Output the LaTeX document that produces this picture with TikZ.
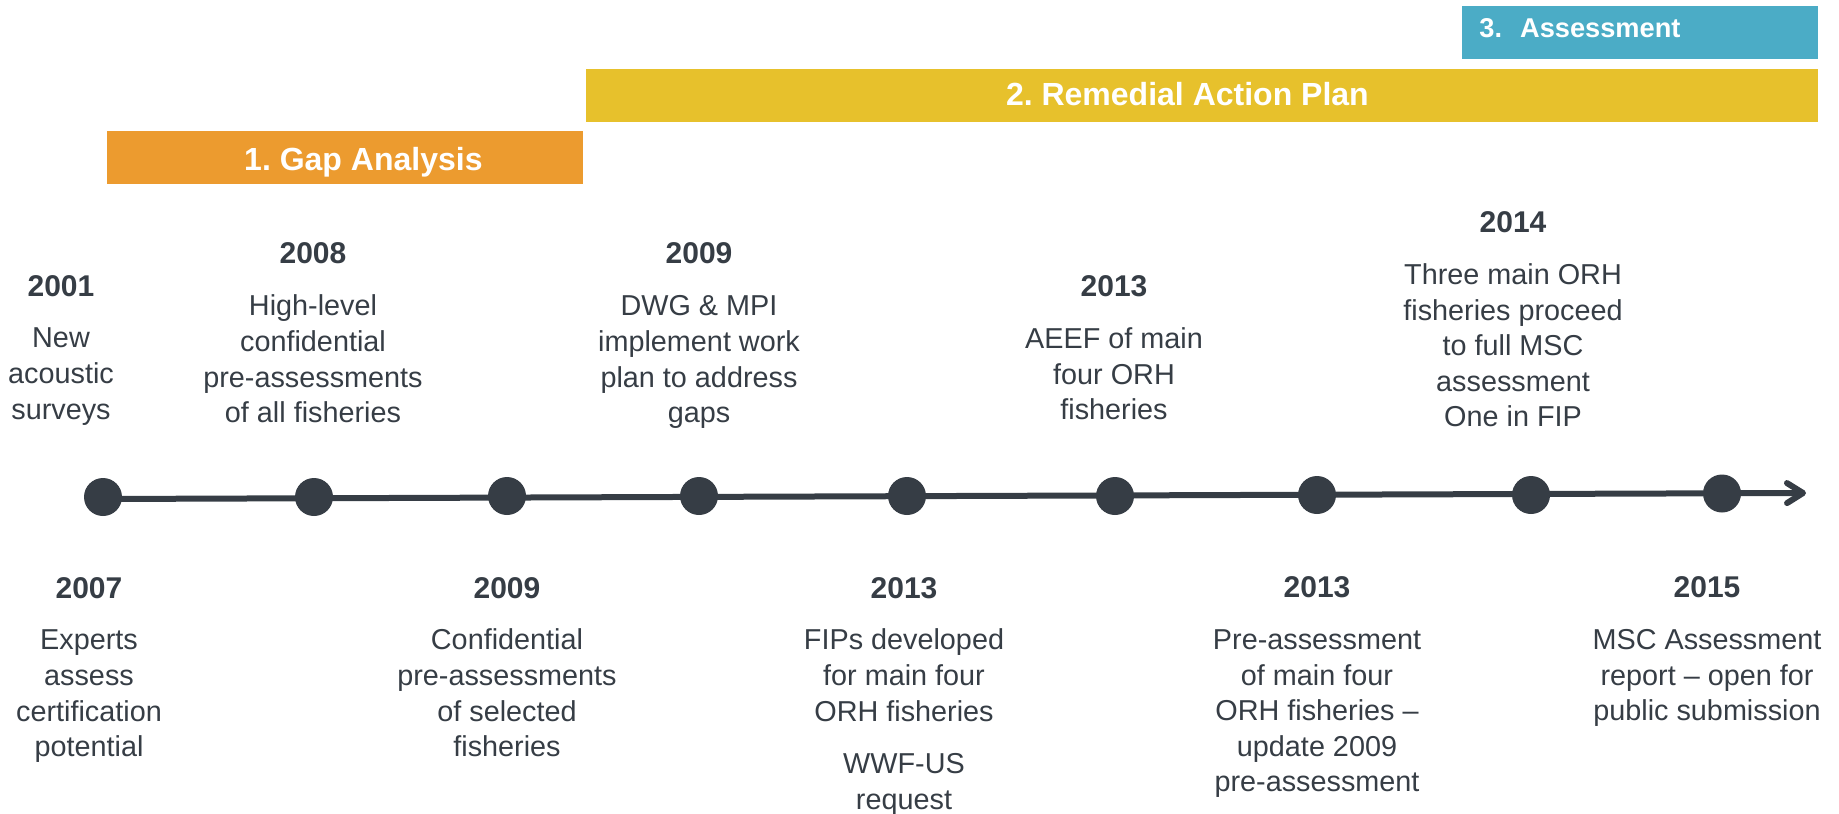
\documentclass[tikz,border=0pt]{standalone}
\usepackage{fontspec}
\setmainfont{Liberation Sans}
\usetikzlibrary{arrows.meta}
\usetikzlibrary{backgrounds}
\definecolor{gaporange}{HTML}{EC9B2F}
\definecolor{planyellow}{HTML}{E7C12C}
\definecolor{assessteal}{HTML}{4BACC6}
\definecolor{slate}{HTML}{363D45}
\frenchspacing
\newcommand{\yearfont}{\fontsize{15}{17.8}\selectfont\bfseries}
\newcommand{\milestone}[5][8pt]{\node(#2)[event] at (#3) {{\yearfont #4}\\[#1]#5}}
\newcommand{\stagebar}[4]{\node(#1)[stage,#2] at (#3) {#4}}

\begin{document}
\begin{tikzpicture}[
        x=0.5pt, y=-0.5pt,
        every node/.style={font=\fontsize{14.4}{17.8}\selectfont, text=slate},
        event/.style={anchor=north, align=center, inner sep=0pt},
        stage/.style={anchor=north west, minimum height=26.5pt, inner xsep=0pt, inner ysep=0pt,
                      text height=18pt, text depth=8.5pt, text=white,
                      font=\fontsize{16}{19}\selectfont\bfseries},
        dot/.style={circle, fill=slate, minimum size=19pt, inner sep=0pt},
        timeline/.style={draw=slate, line width=3pt,
                         -{Straight Barb[length=8pt,width=10pt,line cap=round,line join=round]}}
      ]
      \useasboundingbox (0,0) rectangle (1839,813);
      \stagebar{gap}{fill=gaporange, minimum width=238pt, text height=19.5pt, text depth=7pt}{107,131}{\hspace*{18pt}1. Gap Analysis};
      \stagebar{remedial}{fill=planyellow, minimum width=616pt}{586,69}{2. Remedial Action Plan\hspace*{15pt}};
      \stagebar{assess}{fill=assessteal, text width=161pt, inner xsep=8.5pt, align=left,
                        text height=15.5pt, text depth=11pt, font=\fontsize{13.6}{16}\selectfont\bfseries}{1462,6}{3.\ \ Assessment};

      \node[dot] (d1) at (103,497) {};
      \node[dot] (d2) at (314,497) {};
      \node[dot] (d3) at (507,496) {};
      \node[dot] (d4) at (699,496) {};
      \node[dot] (d5) at (907,496) {};
      \node[dot] (d6) at (1115,496) {};
      \node[dot] (d7) at (1317,495) {};
      \node[dot] (d8) at (1531,495) {};
      \node[dot] (d9) at (1722,493.5) {};
      \coordinate (tip) at (1806,493);
      \begin{pgfonlayer}{background}
        \draw[timeline] ([yshift=-1pt]d1.center) -- (tip);
      \end{pgfonlayer}

      \milestone{e2001}{61,275}{2001}{New\\acoustic\\surveys};
      \milestone[8.5pt]{e2008}{313,242}{2008}{High-level\\confidential\\pre-assessments\\of all fisheries};
      \milestone[8.5pt]{e2009a}{699,242}{2009}{DWG \& MPI\\implement work\\plan to address\\gaps};
      \milestone{e2013a}{1114,275.5}{2013}{AEEF of main\\four ORH\\fisheries};
      \milestone{e2014}{1513,211.5}{2014}{Three main ORH\\fisheries proceed\\to full MSC\\assessment\\One in FIP};

      \milestone{e2007}{89,577}{2007}{Experts\\assess\\certification\\potential};
      \milestone{e2009b}{507,577}{2009}{Confidential\\pre-assessments\\of selected\\fisheries};
      \milestone{e2013b}{904,577}{2013}{FIPs developed\\for main four\\ORH fisheries\\[8.5pt]WWF-US\\request};
      \milestone{e2013c}{1317,576.5}{2013}{Pre-assessment\\of main four\\ORH fisheries –\\update 2009\\pre-assessment};
      \milestone{e2015}{1707,576.5}{2015}{MSC Assessment\\report – open for\\public submission};
    \end{tikzpicture}
\end{document}
